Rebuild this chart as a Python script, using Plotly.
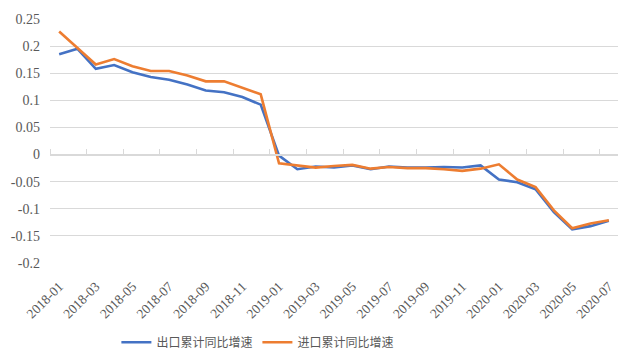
import plotly.graph_objects as go

months = [f"{y}-{m:02d}" for y in (2018, 2019, 2020) for m in range(1, 13)][:31]

export_growth = [0.185, 0.195, 0.158, 0.165, 0.152, 0.143, 0.138, 0.129, 0.118, 0.115,
                 0.106, 0.092, -0.002, -0.027, -0.022, -0.024, -0.020, -0.027, -0.022, -0.024,
                 -0.024, -0.023, -0.024, -0.020, -0.046, -0.051, -0.064, -0.106, -0.138, -0.132,
                 -0.122]
import_growth = [0.227, 0.197, 0.166, 0.176, 0.163, 0.154, 0.154, 0.146, 0.135, 0.135,
                 0.123, 0.111, -0.016, -0.020, -0.024, -0.021, -0.019, -0.026, -0.023, -0.025,
                 -0.025, -0.027, -0.030, -0.026, -0.018, -0.046, -0.060, -0.103, -0.136, -0.127,
                 -0.121]

series_names = ["出口累计同比增速", "进口累计同比增速"]
colors = ["#4472C4", "#ED7D31"]
y_ticks = [0.25, 0.2, 0.15, 0.1, 0.05, 0, -0.05, -0.1, -0.15, -0.2]
y_tick_text = ["0.25", "0.2", "0.15", "0.1", "0.05", "0", "-0.05", "-0.1", "-0.15", "-0.2"]

fig = go.Figure()
for name, vals, c in zip(series_names, [export_growth, import_growth], colors):
    fig.add_trace(go.Scatter(x=months, y=vals, mode="lines", name=name,
                             line=dict(color=c, width=2.6)))

# helper trace for the category axis line drawn at y = 0
fig.add_trace(go.Scatter(x=[None], y=[None], xaxis="x2", showlegend=False, hoverinfo="skip"))

ymin, ymax = -0.2, 0.25
serif = "Liberation Serif"
grey = "#595959"

# the page body has an 8px default margin, so the figure is sized to fit the window
fig.update_layout(
    width=633, height=351,
    margin=dict(l=42, r=23, t=11, b=96, autoexpand=False),
    plot_bgcolor="white", paper_bgcolor="white",
    showlegend=True,
    legend=dict(orientation="h", x=0.366, xanchor="center", y=-0.325, yanchor="middle",
                font=dict(family="Noto Sans CJK SC", size=12, color=grey),
                itemwidth=30, tracegroupgap=0),
    xaxis=dict(type="category", categoryorder="array", categoryarray=months,
               range=[-0.5, len(months) - 0.5], automargin=False,
               tickvals=months[::2], tickangle=-45,
               tickfont=dict(family=serif, size=13.5, color=grey),
               showgrid=False, showline=False, ticks="", zeroline=False,
               ticklabelstandoff=12),
    xaxis2=dict(overlaying="x", anchor="free", side="top", automargin=False,
                position=(0 - ymin) / (ymax - ymin),
                range=[-0.5, len(months) - 0.5], tick0=-0.5, dtick=2,
                ticks="outside", ticklen=5, tickcolor="#d9d9d9", tickwidth=1,
                showticklabels=False, showgrid=False, zeroline=False,
                showline=True, linecolor="#d9d9d9", linewidth=1.5),
    yaxis=dict(range=[ymin, ymax], tickvals=y_ticks, ticktext=y_tick_text,
               automargin=False,
               tickfont=dict(family=serif, size=14, color=grey),
               showgrid=True, gridcolor="#d9d9d9", gridwidth=1.3,
               zeroline=False, showline=False, ticks="", ticklabelstandoff=9),
)

fig.write_html("out.html")
